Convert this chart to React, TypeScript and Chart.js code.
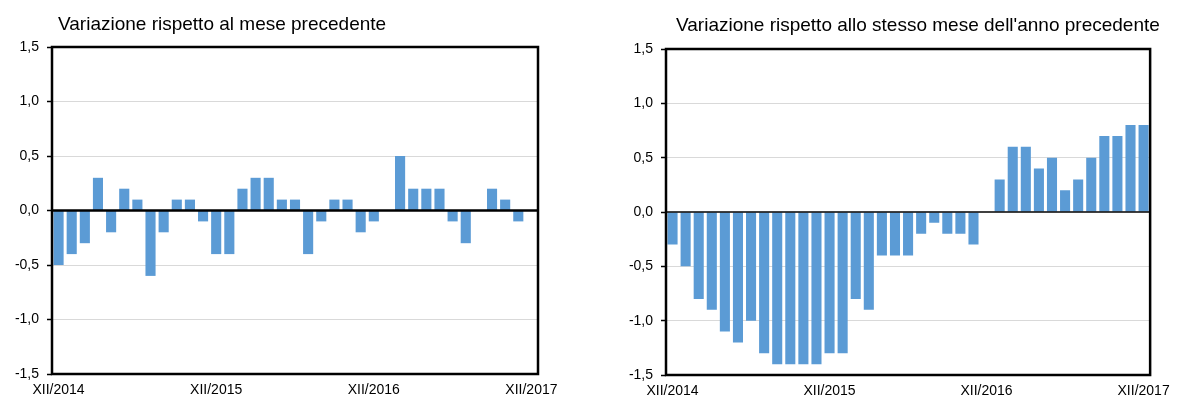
import React, { useEffect, useRef } from "react";
import { Chart, registerables } from "chart.js";

Chart.register(...registerables);

const categories = [
  "XII/2014",
  "I/2015", "II/2015", "III/2015", "IV/2015", "V/2015", "VI/2015",
  "VII/2015", "VIII/2015", "IX/2015", "X/2015", "XI/2015", "XII/2015",
  "I/2016", "II/2016", "III/2016", "IV/2016", "V/2016", "VI/2016",
  "VII/2016", "VIII/2016", "IX/2016", "X/2016", "XI/2016", "XII/2016",
  "I/2017", "II/2017", "III/2017", "IV/2017", "V/2017", "VI/2017",
  "VII/2017", "VIII/2017", "IX/2017", "X/2017", "XI/2017", "XII/2017",
];

const monthlyChange = [
  -0.5, -0.4, -0.3, 0.3, -0.2, 0.2, 0.1, -0.6, -0.2, 0.1, 0.1, -0.1, -0.4,
  -0.4, 0.2, 0.3, 0.3, 0.1, 0.1, -0.4, -0.1, 0.1, 0.1, -0.2, -0.1,
  0, 0.5, 0.2, 0.2, 0.2, -0.1, -0.3, 0, 0.2, 0.1, -0.1, 0,
];

const yearlyChange = [
  -0.3, -0.5, -0.8, -0.9, -1.1, -1.2, -1.0, -1.3, -1.4, -1.4, -1.4, -1.4, -1.3,
  -1.3, -0.8, -0.9, -0.4, -0.4, -0.4, -0.2, -0.1, -0.2, -0.2, -0.3, 0,
  0.3, 0.6, 0.6, 0.4, 0.5, 0.2, 0.3, 0.5, 0.7, 0.7, 0.8, 0.8,
];

const titleLeft = "Variazione rispetto al mese precedente";
const titleRight = "Variazione rispetto allo stesso mese dell'anno precedente";

const yMin = -1.5;
const yMax = 1.5;
const yStep = 0.5;

const FONT = "'Liberation Sans', Arial, Helvetica, sans-serif";
const BAR_COLOR = "#5B9BD5";

const framePlugin = {
  id: "frame",
  afterDatasetsDraw(chart: any, _args: any, opts: any) {
    const { ctx, chartArea: a } = chart;
    const y = chart.scales.y;
    ctx.save();
    const y0 = y.getPixelForValue(0);
    ctx.strokeStyle = "#000";
    ctx.lineWidth = opts.zeroWidth;
    ctx.beginPath();
    ctx.moveTo(a.left, y0);
    ctx.lineTo(a.right, y0);
    ctx.stroke();
    ctx.lineWidth = opts.frameWidth;
    ctx.strokeRect(a.left, a.top, a.right - a.left, a.bottom - a.top);
    ctx.fillStyle = "#000";
    ctx.font = `19px ${FONT}`;
    ctx.textBaseline = "alphabetic";
    ctx.textAlign = "left";
    ctx.fillText(opts.text, a.left + opts.dx, opts.titleY);
    ctx.restore();
  },
};

type Props = {
  values: number[];
  title: string;
  areaLeft: number;
  areaRight: number;
  areaTop: number;
  areaBottom: number;
  zeroWidth: number;
  titleDx: number;
  titleY: number;
  x: number;
};

const W = 589;
const H = 401;

function BarPanel(p: Props) {
  const ref = useRef<HTMLCanvasElement>(null);
  useEffect(() => {
    if (!ref.current) return;
    const chart = new Chart(ref.current, {
      type: "bar",
      data: {
        labels: categories,
        datasets: [
          {
            data: p.values,
            backgroundColor: BAR_COLOR,
            borderWidth: 0,
            categoryPercentage: 1,
            barPercentage: 0.77,
          },
        ],
      },
      options: {
        responsive: false,
        animation: false,
        devicePixelRatio: 1,
        layout: {
          padding: { top: p.areaTop, left: 0, right: W - p.areaRight, bottom: 0 },
        },
        plugins: {
          legend: { display: false },
          tooltip: { enabled: false },
          title: { display: false },
          frame: {
            zeroWidth: p.zeroWidth,
            frameWidth: 2.5,
            text: p.title,
            dx: p.titleDx,
            titleY: p.titleY,
          },
        } as any,
        scales: {
          x: {
            offset: true,
            grid: { display: false, drawTicks: false },
            border: { display: false },
            ticks: {
              autoSkip: false,
              maxRotation: 0,
              minRotation: 0,
              padding: 8,
              color: "#000",
              font: { family: FONT, size: 14 },
              callback: (_v: any, i: number) =>
                categories[i].startsWith("XII/") ? categories[i] : "",
            },
            afterFit: (s: any) => {
              s.height = H - p.areaBottom;
            },
          },
          y: {
            min: yMin,
            max: yMax,
            border: { display: false },
            grid: {
              color: (c: any) => (c.tick && c.tick.value === 0 ? "rgba(0,0,0,0)" : "#d9d9d9"),
              lineWidth: 1,
              tickColor: "#000",
              tickWidth: 1.5,
              tickLength: 5,
              drawTicks: true,
            },
            ticks: {
              stepSize: yStep,
              padding: 8,
              color: "#000",
              font: { family: FONT, size: 14 },
              callback: (v: any) => Number(v).toFixed(1).replace(".", ","),
            },
            afterFit: (s: any) => {
              s.width = p.areaLeft;
            },
          },
        },
      },
      plugins: [framePlugin as any],
    });
    return () => chart.destroy();
  }, []);
  return (
    <canvas
      ref={ref}
      width={W}
      height={H}
      style={{ position: "absolute", left: p.x, top: 0, width: W, height: H, display: "block" }}
    />
  );
}

export default function App() {
  return (
    <div style={{ position: "absolute", left: 0, top: 0, width: 1178, height: 401, background: "#fff" }}>
      <BarPanel
        values={monthlyChange}
        title={titleLeft}
        areaLeft={52}
        areaRight={538}
        areaTop={47}
        areaBottom={374}
        zeroWidth={2.5}
        titleDx={6}
        titleY={30}
        x={0}
      />
      <BarPanel
        values={yearlyChange}
        title={titleRight}
        areaLeft={77}
        areaRight={564}
        areaTop={49}
        areaBottom={375}
        zeroWidth={1.5}
        titleDx={10}
        titleY={31}
        x={589}
      />
    </div>
  );
}
